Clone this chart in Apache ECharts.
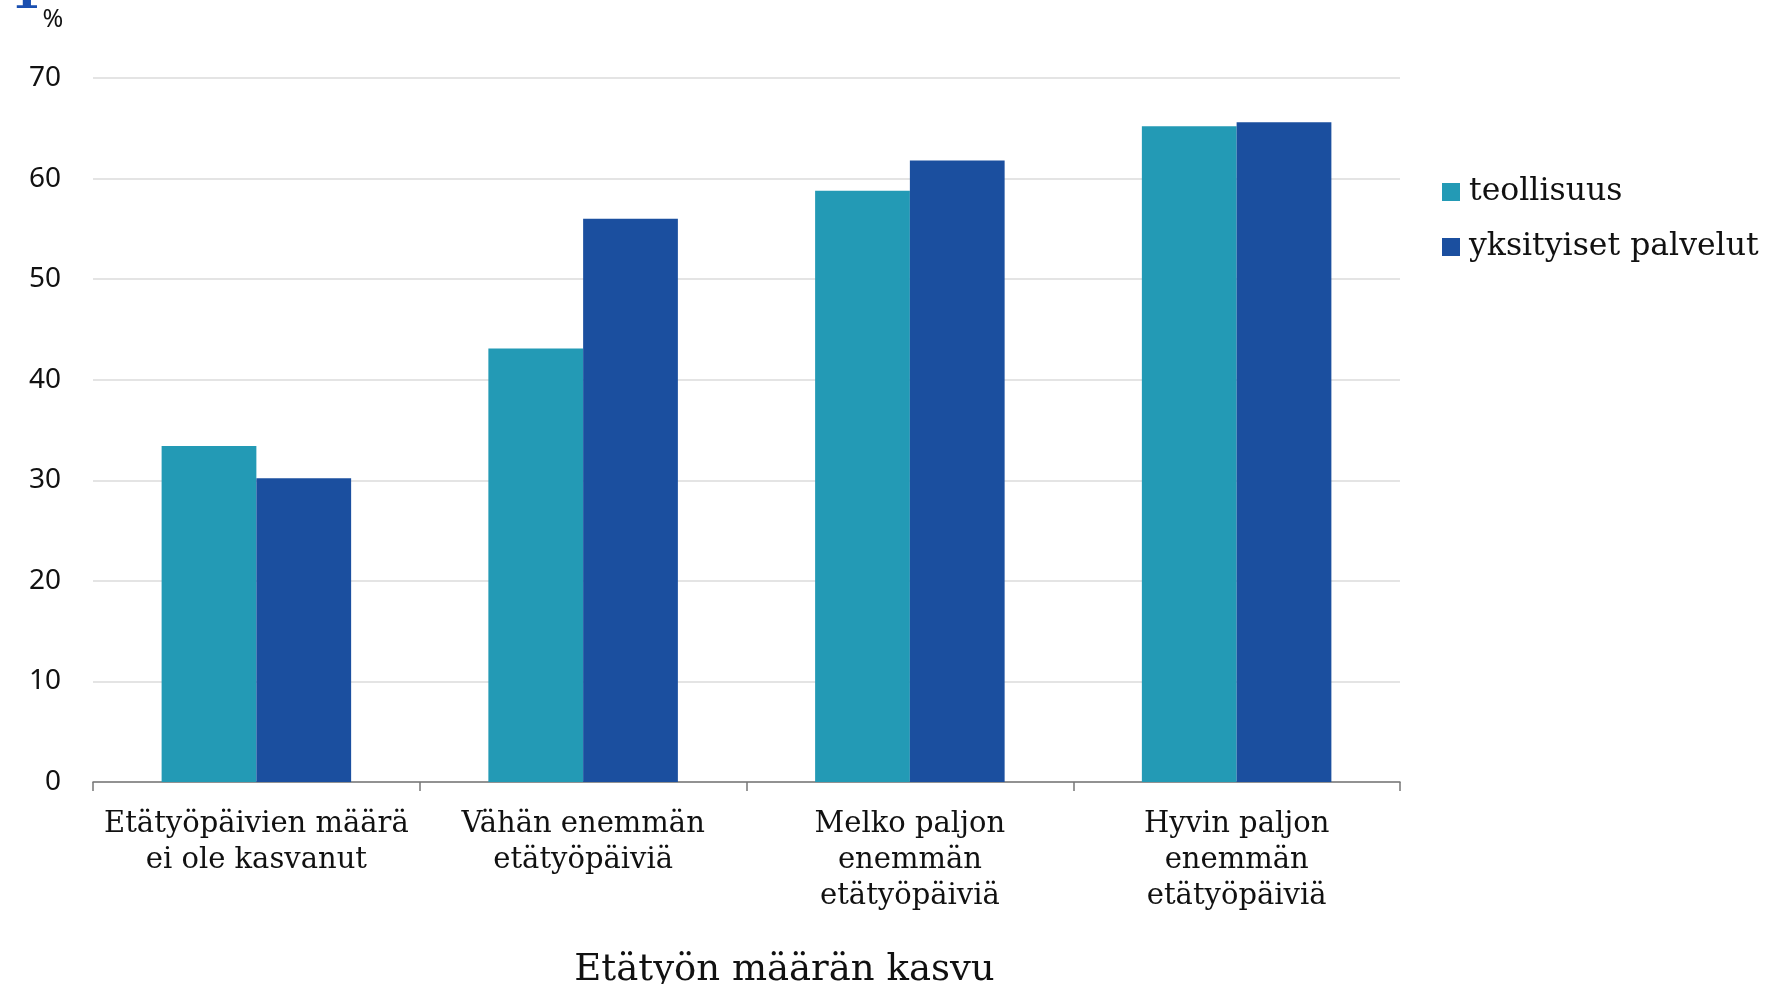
<!DOCTYPE html>
<html>
<head>
<meta charset="utf-8">
<script src="https://cdn.jsdelivr.net/npm/echarts@6/dist/echarts.min.js"></script>
<style>
  html, body { margin: 0; padding: 0; background: #ffffff; }
  #chart { width: 1770px; height: 984px; }
</style>
</head>
<body>
<div id="chart"></div>
<script>
// Etätyön määrän kasvu – osuudet toimialoittain (%)
const categories = [
  'Etätyöpäivien määrä\nei ole kasvanut',
  'Vähän enemmän\netätyöpäiviä',
  'Melko paljon\nenemmän\netätyöpäiviä',
  'Hyvin paljon\nenemmän\netätyöpäiviä'
];
const seriesNames = ['teollisuus', 'yksityiset palvelut'];
const teollisuus = [33.4, 43.1, 58.8, 65.2];
const yksityisetPalvelut = [30.2, 56.0, 61.8, 65.6];
const yTicks = [0, 10, 20, 30, 40, 50, 60, 70];

const serif = '"DejaVu Serif", serif';
const sans = '"Noto Sans", "Open Sans", sans-serif';

const chart = echarts.init(document.getElementById('chart'));
chart.setOption({
  animation: false,
  backgroundColor: '#ffffff',
  graphic: [
    {
      // figure number, partly above the top edge
      type: 'text',
      x: 26,
      y: 19,
      style: {
        text: '1',
        fontFamily: serif,
        fontWeight: 'bold',
        fontSize: 44,
        fill: '#1a4fb0',
        align: 'center',
        verticalAlign: 'bottom'
      }
    },
    {
      type: 'text',
      x: 53,
      y: 20,
      style: {
        text: '%',
        fontFamily: sans,
        fontSize: 25,
        fill: '#111111',
        align: 'center',
        verticalAlign: 'middle'
      }
    }
  ],
  grid: {
    left: 93, right: 370, top: 78, bottom: 202,
    containLabel: false,
    outerBoundsMode: 'none'
  },
  legend: {
    orient: 'vertical',
    left: 1437,
    top: 170,
    itemWidth: 18,
    itemHeight: 18,
    itemGap: 21,
    icon: 'rect',
    data: seriesNames,
    textStyle: { fontFamily: serif, fontSize: 31.5, color: '#111111', lineHeight: 34, padding: [0, 0, 0, 4] }
  },
  xAxis: {
    type: 'category',
    data: categories,
    name: 'Etätyön määrän kasvu',
    nameLocation: 'middle',
    nameGap: 170,
    nameTextStyle: {
      fontFamily: serif, fontSize: 37, color: '#111111',
      verticalAlign: 'top', padding: [0, 0, 0, 76]
    },
    axisLine: { lineStyle: { color: '#777777', width: 1.5 } },
    axisTick: { show: true, length: 9, alignWithLabel: false, lineStyle: { color: '#777777', width: 1.5 } },
    axisLabel: {
      interval: 0,
      margin: 24,
      fontFamily: serif,
      fontSize: 29,
      lineHeight: 36,
      color: '#111111'
    }
  },
  yAxis: {
    type: 'value',
    min: yTicks[0],
    max: yTicks[yTicks.length - 1],
    interval: 10,
    axisLine: { show: false },
    axisTick: { show: false },
    axisLabel: { margin: 32, fontFamily: sans, fontSize: 28, color: '#111111' },
    splitLine: { lineStyle: { color: '#e4e4e4', width: 2 } }
  },
  series: [
    {
      name: seriesNames[0],
      type: 'bar',
      data: teollisuus,
      barGap: '0%',
      barCategoryGap: '42%',
      itemStyle: { color: '#239ab5' }
    },
    {
      name: seriesNames[1],
      type: 'bar',
      data: yksityisetPalvelut,
      itemStyle: { color: '#1b4f9f' }
    }
  ]
});
</script>
</body>
</html>
